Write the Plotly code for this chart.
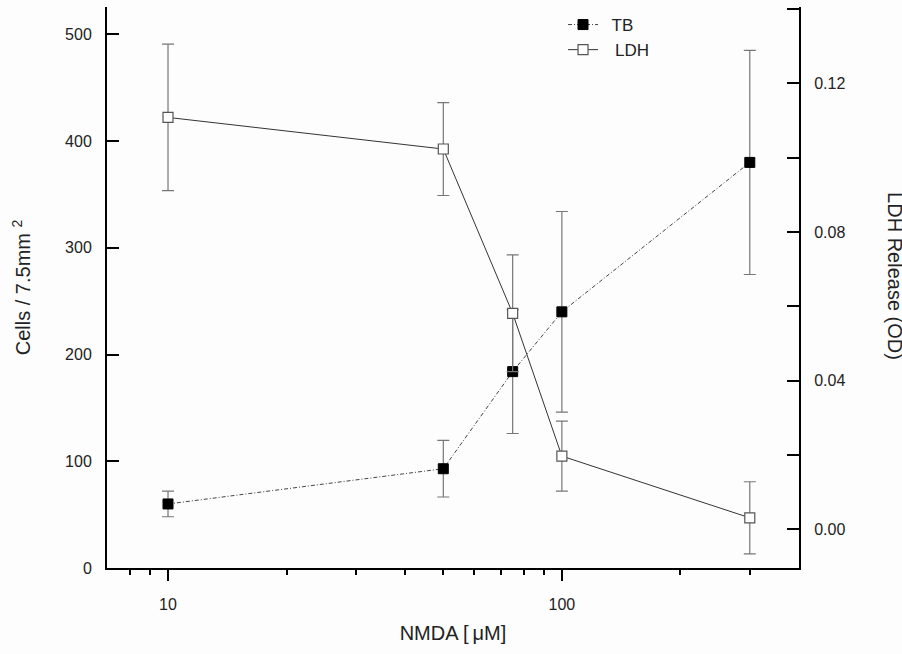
import math
import plotly.graph_objects as go

# NMDA concentration (µM)
nmda = [10, 50, 75, 100, 300]

# Trypan blue positive cells per 7.5 mm² (mean ± SD)
tb_cells = [60, 93, 184, 240, 380]
tb_err = [12, 26.5, 58, 94, 105]

# LDH release, optical density (mean ± SD)
ldh_od = [0.1108, 0.1023, 0.0581, 0.0197, 0.0031]
ldh_err = [0.0197, 0.0125, 0.0157, 0.0094, 0.0097]

left_ticks = [0, 100, 200, 300, 400, 500]
right_ticks = [0.00, 0.04, 0.08, 0.12]
right_labels = ["0.00", "0.04", "0.08", "0.12"]
right_minor = [0.02, 0.06, 0.10, 0.14]
x_major = [10, 100]
x_minor = [8, 9, 20, 30, 40, 50, 60, 70, 80, 90, 200, 300]

FONT = "Liberation Sans"
TXT = "#222222"

fig = go.Figure()

fig.add_trace(go.Scatter(
    x=nmda, y=tb_cells, name="\u2002TB", mode="lines+markers",
    line=dict(color="#444444", width=1, dash="4px,2px,1px,2px"),
    marker=dict(symbol="square", size=10, color="black",
                line=dict(color="black", width=1)),
    error_y=dict(type="data", array=tb_err, visible=True,
                 color="#777777", thickness=1.2, width=6),
    yaxis="y",
))

fig.add_trace(go.Scatter(
    x=nmda, y=ldh_od, name="\u2002\u2009LDH", mode="lines+markers",
    line=dict(color="#333333", width=1),
    marker=dict(symbol="square", size=10, color="white",
                line=dict(color="#555555", width=1.2)),
    error_y=dict(type="data", array=ldh_err, visible=True,
                 color="#777777", thickness=1.2, width=6),
    yaxis="y2",
))

fig.update_layout(
    width=902, height=654,
    margin=dict(l=107, r=103, t=7, b=86, autoexpand=False),
    paper_bgcolor="#fdfdfd", plot_bgcolor="#fdfdfd",
    font=dict(family=FONT, color=TXT, size=16),
    showlegend=True,
    legend=dict(x=0.659, y=1.0, xanchor="left", yanchor="top",
                bgcolor="rgba(0,0,0,0)", font=dict(size=17, color=TXT),
                tracegroupgap=0),
    xaxis=dict(
        type="log", range=[math.log10(7), math.log10(400)],
        showline=True, linecolor="black", linewidth=2,
        showgrid=False, zeroline=False,
        tickmode="array", tickvals=x_major, ticktext=["10", "100"],
        ticks="outside", ticklen=11, tickwidth=2, tickcolor="black",
        ticklabelstandoff=10,
        tickfont=dict(size=16, color=TXT),
        minor=dict(tickmode="array", tickvals=x_minor, ticks="outside",
                   ticklen=5, tickwidth=2, tickcolor="black", showgrid=False),
        title=dict(text="NMDA [\u2009\u03bcM]", font=dict(size=20, color=TXT), standoff=14),
    ),
    yaxis=dict(
        range=[0, 525.6],
        showline=True, linecolor="black", linewidth=2,
        showgrid=False, zeroline=False,
        tickmode="array", tickvals=left_ticks,
        ticks="inside", ticklen=12, tickwidth=2, tickcolor="black",
        ticklabelstandoff=10,
        tickfont=dict(size=16, color=TXT),
        title=dict(text="Cells / 7.5mm <sup>2</sup>", font=dict(size=20, color=TXT), standoff=29),
    ),
    yaxis2=dict(
        overlaying="y", side="right",
        range=[-0.0104, 0.1405],
        showline=True, linecolor="black", linewidth=2,
        showgrid=False, zeroline=False,
        tickmode="array", tickvals=right_ticks, ticktext=right_labels,
        ticks="inside", ticklen=12, tickwidth=2, tickcolor="black",
        ticklabelstandoff=10,
        tickfont=dict(size=16, color=TXT),
        minor=dict(tickmode="array", tickvals=right_minor, ticks="inside",
                   ticklen=12, tickwidth=2, tickcolor="black", showgrid=False),
    ),
    annotations=[dict(
        text="LDH Release (OD)", textangle=90, showarrow=False,
        xref="paper", yref="paper", x=1.139, y=0.52,
        xanchor="center", yanchor="middle",
        font=dict(size=20, color=TXT, family=FONT),
    )],
)

fig.write_html("out.html")
